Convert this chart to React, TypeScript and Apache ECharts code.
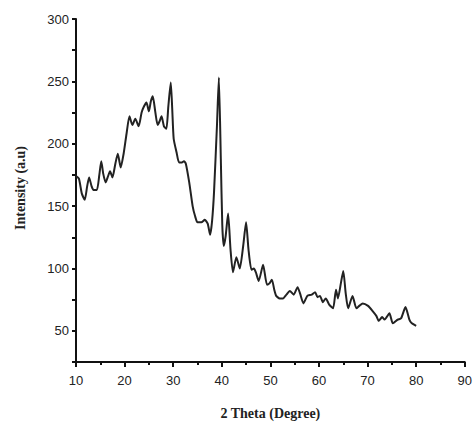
import React, { useEffect, useRef } from "react";
import * as echarts from "echarts";

const xTicks = [10, 20, 30, 40, 50, 60, 70, 80, 90];
const yMin = 25;
const yMax = 300;
const yLabelStep = 50;

const twoTheta = [
  10, 10.6, 11.2, 11.8, 12.3, 12.7, 13.2, 13.6, 14.3, 14.8, 15.2, 15.6, 16.1, 16.6, 17.0, 17.5,
  18.1, 18.6, 19.2, 19.8, 20.4, 21.0, 21.6, 22.2, 22.9, 23.5, 24.0, 24.5, 25.0, 25.4, 25.8, 26.3,
  26.8, 27.2, 27.6, 28.1, 28.6, 29.0, 29.5, 29.8, 30.1, 30.7, 31.2, 31.8, 32.2, 32.6, 33.3, 34.0,
  34.5, 35.0, 35.8, 36.5, 37.1, 37.6, 38.0, 38.4, 39.0, 39.4, 39.8, 40.1, 40.4, 40.8, 41.3, 41.8,
  42.3, 43.0, 43.7, 44.4, 45.0, 45.5, 46.1, 46.6, 47.0, 47.6, 48.5, 49.3, 49.8, 50.3, 50.8, 51.2,
  51.9, 52.6, 53.3, 54.0, 54.8, 55.6, 56.1, 56.8, 57.6, 58.5, 59.2, 59.7, 60.2, 60.8, 61.4, 62.1,
  62.9, 63.5, 63.9, 64.5, 65.0, 65.5, 66.0, 66.9, 67.7, 68.3, 69.0, 70.1, 71.0, 71.8, 72.3, 73.0,
  73.5, 74.5, 75.2, 76.2, 76.9, 77.8, 78.6, 79.1, 80.0,
];
const intensity = [
  174, 172, 160, 155, 166, 173, 166, 163, 163, 175, 186, 176, 169, 174, 178, 173,
  184, 192, 181, 192, 208, 222, 215, 220, 214, 225, 230, 233, 226, 234, 238, 226,
  215, 218, 222, 214, 212, 230, 249, 228, 204, 193, 185, 185, 186, 184, 169, 150,
  142, 137, 137, 139, 136, 127, 138, 161, 214, 253, 188, 135, 118, 126, 144, 115,
  97, 109, 100, 118, 137, 115, 99, 100, 97, 90, 103, 87, 88, 91, 83, 78,
  76, 76, 79, 82, 79, 85, 80, 72, 78, 79, 81, 77, 78, 73, 76, 71,
  68, 83, 76, 88, 98, 80, 68, 78, 68, 70, 72, 70, 66, 62, 58, 61,
  59, 64, 56, 59, 60, 69, 59, 56, 54,
];

export default function App() {
  const ref = useRef<HTMLDivElement>(null);
  useEffect(() => {
    if (!ref.current) return;
    const chart = echarts.init(ref.current, null, { renderer: "svg" });
    const data = twoTheta.map((x, i) => [x, intensity[i]]);
    const labelFont = { fontFamily: "Liberation Sans, Arial, sans-serif", fontSize: 13, color: "#222" };
    chart.setOption({
      animation: false,
      backgroundColor: "#ffffff",
      grid: { left: 76, right: 9, top: 19, bottom: 61, containLabel: false },
      xAxis: {
        type: "value",
        min: xTicks[0],
        max: xTicks[xTicks.length - 1],
        interval: 10,
        name: "2 Theta (Degree)",
        nameLocation: "middle",
        nameGap: 44,
        nameTextStyle: { fontFamily: "Liberation Serif, Times New Roman, serif", fontWeight: "bold", fontSize: 14, color: "#222" },
        axisLine: { show: true, onZero: false, lineStyle: { color: "#111", width: 2 } },
        axisTick: { show: true, inside: false, length: 5, lineStyle: { color: "#111", width: 2 } },
        minorTick: { show: true, splitNumber: 2, length: 3, lineStyle: { color: "#111", width: 2 } },
        axisLabel: { ...labelFont, margin: 12 },
        splitLine: { show: false },
        minorSplitLine: { show: false },
      },
      yAxis: {
        type: "value",
        min: yMin,
        max: yMax,
        interval: 25,
        axisLine: { show: true, onZero: false, lineStyle: { color: "#111", width: 2 } },
        axisTick: { show: true, inside: false, length: 4, lineStyle: { color: "#111", width: 2 } },
        axisLabel: {
          ...labelFont,
          margin: 7,
          formatter: (v: number) => (v % yLabelStep === 0 ? String(v) : ""),
        },
        splitLine: { show: false },
      },
      graphic: [
        {
          type: "text",
          x: 20,
          y: 188,
          rotation: Math.PI / 2,
          style: {
            text: "Intensity (a.u)",
            fontFamily: "Liberation Serif, Times New Roman, serif",
            fontWeight: "bold",
            fontSize: 14,
            fill: "#222",
            align: "center",
            verticalAlign: "middle",
          },
        },
      ],
      series: [
        {
          type: "line",
          data,
          showSymbol: false,
          smooth: 0.2,
          lineStyle: { color: "#222", width: 2 },
        },
      ],
    });
    return () => chart.dispose();
  }, []);
  return <div ref={ref} style={{ position: "fixed", left: 0, top: 0, width: 475, height: 425 }} />;
}
